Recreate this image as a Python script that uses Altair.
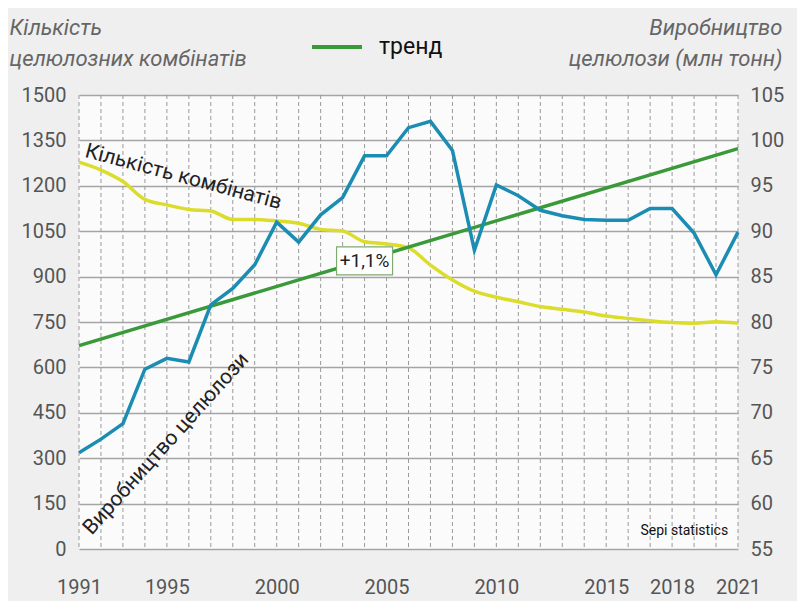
import altair as alt
import pandas as pd

years = list(range(1991, 2022))
production = [65.6, 67.1, 68.8, 74.8, 76.0, 75.6, 81.9, 83.7, 86.3, 91.0,
              88.8, 91.8, 93.7, 98.3, 98.3, 101.4, 102.1, 98.9, 87.9, 95.1,
              93.9, 92.3, 91.7, 91.3, 91.2, 91.2, 92.5, 92.5, 89.8, 85.2, 89.9]
mills = [1278, 1252, 1214, 1155, 1137, 1122, 1117, 1089, 1089, 1084,
         1076, 1056, 1051, 1015, 1008, 995, 938, 889, 852, 832,
         817, 801, 792, 783, 770, 762, 754, 748, 746, 751, 746]
trend_years = [1991, 2021]
trend_values = [77.4, 99.1]
x_labels = [1991, 1995, 2000, 2005, 2010, 2015, 2018, 2021]
left_ticks = list(range(0, 1501, 150))
right_ticks = list(range(55, 106, 5))

FONT = "Roboto"

df = pd.DataFrame({"year": years, "production": production, "mills": mills})
trend = pd.DataFrame({"year": trend_years, "production": trend_values, "series": ["тренд"] * 2})
grid_years = pd.DataFrame({"year": years})

ann_left = pd.DataFrame({
    "year": [1995.75, 1994.97],
    "mills": [1229, 347],
    "text": ["Кількість комбінатів", "Виробництво целюлози"],
    "angle": [15, 312],
})
pct = pd.DataFrame({"year": [2004.0], "mills": [952], "text": ["+1,1%"]})
src = pd.DataFrame({"year": [2020.55], "mills": [46], "text": ["Sepi statistics"]})

xscale = alt.Scale(domain=[1991, 2021], nice=False, zero=False)
x_axis = alt.Axis(
    values=x_labels, format="d", title=None,
    labelOverlap=False, grid=False,
    domain=False, ticks=False, labelPadding=28, labelFontSize=20,
    labelFont=FONT, labelColor="#555555", labelFlush=False,
)
yl_scale = alt.Scale(domain=[0, 1500], nice=False, zero=False)
yr_scale = alt.Scale(domain=[55, 105], nice=False, zero=False)

left_axis = alt.Axis(
    values=left_ticks, format="d", title=["Кількість", "целюлозних комбінатів"],
    titleAngle=0, titleAlign="left", titleBaseline="alphabetic",
    titleX=-70, titleY=-61, titleFont=FONT, titleFontSize=22,
    titleFontStyle="italic", titleFontWeight="normal", titleColor="#666666",
    titleLineHeight=31,
    grid=True, gridColor="#a5a5a5", gridWidth=1.5,
    domain=False, ticks=False, labelPadding=13, labelFontSize=20,
    labelFont=FONT, labelColor="#555555", labelOverlap=False,
)
right_axis = alt.Axis(
    values=right_ticks, format="d", orient="right",
    title=["Виробництво", "целюлози (млн тонн)"],
    titleAngle=0, titleAlign="right", titleBaseline="alphabetic",
    titleX=44, titleY=-61, titleFont=FONT, titleFontSize=22,
    titleFontStyle="italic", titleFontWeight="normal", titleColor="#666666",
    titleLineHeight=31,
    grid=False, domain=False, ticks=False, labelPadding=12, labelFontSize=20,
    labelFont=FONT, labelColor="#555555", labelOverlap=False,
)

X = alt.X("year:Q", scale=xscale)

vgrid = alt.Chart(grid_years).mark_rule(
    color="#9a9a9a", strokeWidth=1, strokeDash=[4, 3]
).encode(
    x=alt.X("year:Q", scale=xscale, axis=x_axis),
)

yellow = alt.Chart(df).mark_line(color="#dcdc2c", strokeWidth=3.5, interpolate="monotone").encode(
    x=X,
    y=alt.Y("mills:Q", scale=yl_scale, axis=left_axis),
)

ann = alt.Chart(ann_left).mark_text(font=FONT, fontSize=21, color="#222222").encode(
    x=X,
    y=alt.Y("mills:Q", scale=yl_scale),
    text="text:N",
    angle=alt.Angle("angle:Q", scale=None),
)
src_text = alt.Chart(src).mark_text(font=FONT, fontSize=14, color="#111111",
                                     align="right", baseline="alphabetic").encode(
    x=X,
    y=alt.Y("mills:Q", scale=yl_scale),
    text="text:N",
)

left_layer = alt.layer(yellow, ann, src_text)

trend_line = alt.Chart(trend).mark_line(strokeWidth=3.5).encode(
    x=X,
    y=alt.Y("production:Q", scale=yr_scale, axis=right_axis),
    color=alt.Color("series:N", scale=alt.Scale(domain=["тренд"], range=["#3a9a3a"]),
                    legend=alt.Legend(
                        orient="none", legendX=231, legendY=-75, title=None,
                        symbolType="stroke", symbolSize=2500, symbolStrokeWidth=4,
                        labelFontSize=23, labelFont=FONT, labelColor="#111111",
                        labelOffset=15, padding=0)),
)
blue = alt.Chart(df).mark_line(color="#1b8db3", strokeWidth=3.5).encode(
    x=X,
    y=alt.Y("production:Q", scale=yr_scale),
)

right_layer = alt.layer(trend_line, blue)

box = alt.Chart(pct).mark_point(
    shape="M-1,-0.5H1V0.5H-1Z", size=3136, filled=True, fill="#ffffff",
    stroke="#7faa70", strokeWidth=1.2, opacity=1,
).encode(
    x=X,
    y=alt.Y("mills:Q", scale=yl_scale, axis=None),
)
box_text = alt.Chart(pct).mark_text(font=FONT, fontSize=19, color="#222222").encode(
    x=X,
    y=alt.Y("mills:Q", scale=yl_scale, axis=None),
    text="text:N",
)
box_layer = alt.layer(box, box_text)

chart = alt.layer(vgrid, left_layer, right_layer, box_layer).resolve_scale(
    y="independent"
).properties(
    width=659, height=454,
    autosize=alt.AutoSizeParams(type="none"),
    padding={"left": 71, "top": 87, "right": 59, "bottom": 52},
    background="#efefef",
).configure_view(fill="#fbfbfb", stroke=None).configure_axisX(labelOverlap=False)

chart.save("out.html", embed_options={"renderer": "svg", "actions": False})
